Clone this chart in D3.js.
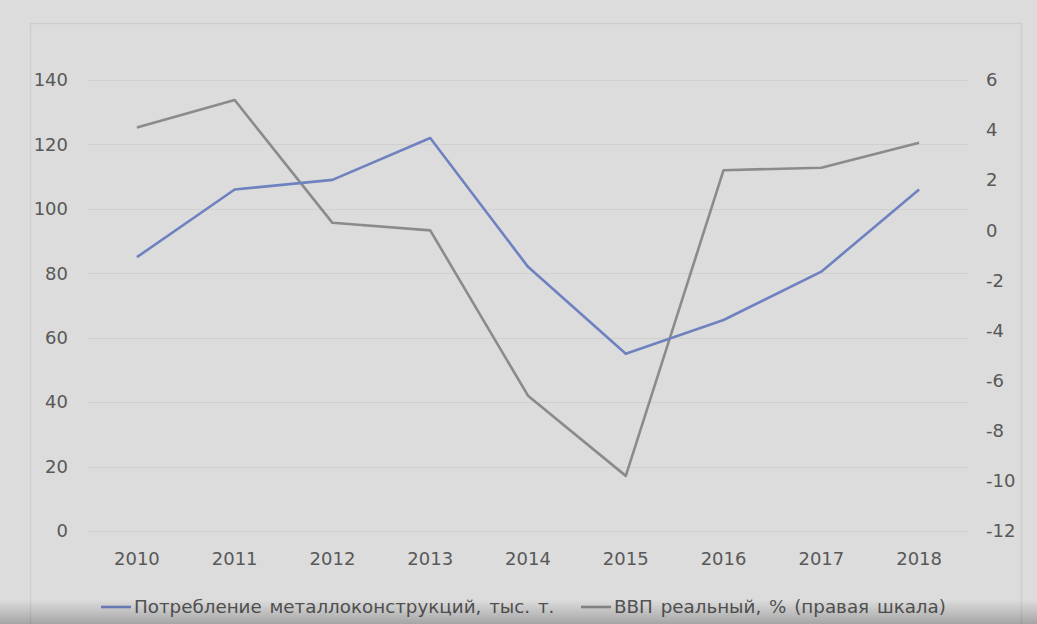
<!DOCTYPE html>
<meta charset="utf-8">
<style>
  body { margin: 0; background: #dadada; }
  .axis text { font: 18px "DejaVu Sans"; fill: #585858; }
  .legend text { font: 18.3px "DejaVu Sans"; fill: #555; word-spacing: 2px; }
</style>
<body>
<script src="https://d3js.org/d3.v7.min.js"></script>
<script>
// data
var years = ["2010", "2011", "2012", "2013", "2014", "2015", "2016", "2017", "2018"];
var steelUse = [85, 106, 109, 122, 82, 55, 65.5, 80.5, 106];
var gdpReal = [4.1, 5.2, 0.3, 0.0, -6.6, -9.8, 2.4, 2.5, 3.5];
var leftTicks = [0, 20, 40, 60, 80, 100, 120, 140];
var rightTicks = [-12, -10, -8, -6, -4, -2, 0, 2, 4, 6];
var seriesNames = ["Потребление металлоконструкций, тыс. т.", "ВВП реальный, % (правая шкала)"];

var W = 1037, H = 624;
var svg = d3.select("body").append("svg").attr("width", W).attr("height", H);

// background + frame
svg.append("rect").attr("width", W).attr("height", H).attr("fill", "#dcdcdc");
svg.append("rect").attr("x", 30.5).attr("y", 23.5).attr("width", 991).attr("height", 640)
  .attr("fill", "none").attr("stroke", "#cdcdcd").attr("stroke-width", 1.5);

var x = d3.scaleBand().domain(years).range([88, 968]);
var yL = d3.scaleLinear().domain([0, 140]).range([531, 80]);
var yR = d3.scaleLinear().domain([-12, 6]).range([531, 80]);

// gridlines
svg.append("g").selectAll("line").data(leftTicks).join("line")
  .attr("x1", 88).attr("x2", 968)
  .attr("y1", function(d) { return Math.round(yL(d)) + 0.5; })
  .attr("y2", function(d) { return Math.round(yL(d)) + 0.5; })
  .attr("stroke", "#d0d0d0").attr("stroke-width", 1);

// axes (plain hyphen for negatives, like the original)
var plain = function(d) { return String(d); };
var gl = svg.append("g").attr("class", "axis").attr("transform", "translate(68,0)")
  .call(d3.axisLeft(yL).tickValues(leftTicks).tickFormat(plain).tickSize(0).tickPadding(0));
var gr = svg.append("g").attr("class", "axis").attr("transform", "translate(986,0)")
  .call(d3.axisRight(yR).tickValues(rightTicks).tickFormat(plain).tickSize(0).tickPadding(0));
var gx = svg.append("g").attr("class", "axis").attr("transform", "translate(0,552)")
  .call(d3.axisBottom(x).tickSize(0).tickPadding(0));
[gl, gr, gx].forEach(function(g) { g.select(".domain").remove(); });

// lines
var lineL = d3.line().x(function(d, i) { return x(years[i]) + x.bandwidth() / 2; }).y(function(d) { return yL(d); });
var lineR = d3.line().x(function(d, i) { return x(years[i]) + x.bandwidth() / 2; }).y(function(d) { return yR(d); });

svg.append("path").datum(gdpReal).attr("d", lineR)
  .attr("fill", "none").attr("stroke", "#8b8b8b").attr("stroke-width", 2.6).attr("stroke-linejoin", "round");
svg.append("path").datum(steelUse).attr("d", lineL)
  .attr("fill", "none").attr("stroke", "#6f82c0").attr("stroke-width", 2.6).attr("stroke-linejoin", "round");

// legend
var leg = svg.append("g").attr("class", "legend");
var legItems = [
  { name: seriesNames[0], color: "#6f82c0", x: 101 },
  { name: seriesNames[1], color: "#8b8b8b", x: 581 }
];
legItems.forEach(function(d) {
  leg.append("line").attr("x1", d.x).attr("x2", d.x + 30).attr("y1", 607).attr("y2", 607)
    .attr("stroke", d.color).attr("stroke-width", 2.6);
  leg.append("text").attr("x", d.x + 33).attr("y", 613).text(d.name);
});

// dark fade at the bottom edge
var defs = svg.append("defs");
var grad = defs.append("linearGradient").attr("id", "fade").attr("x1", 0).attr("x2", 0).attr("y1", 0).attr("y2", 1);
grad.append("stop").attr("offset", "0%").attr("stop-color", "#000").attr("stop-opacity", 0);
grad.append("stop").attr("offset", "100%").attr("stop-color", "#000").attr("stop-opacity", 0.25);
svg.append("rect").attr("x", 0).attr("y", 600).attr("width", W).attr("height", 24).attr("fill", "url(#fade)");
</script>
</body>
